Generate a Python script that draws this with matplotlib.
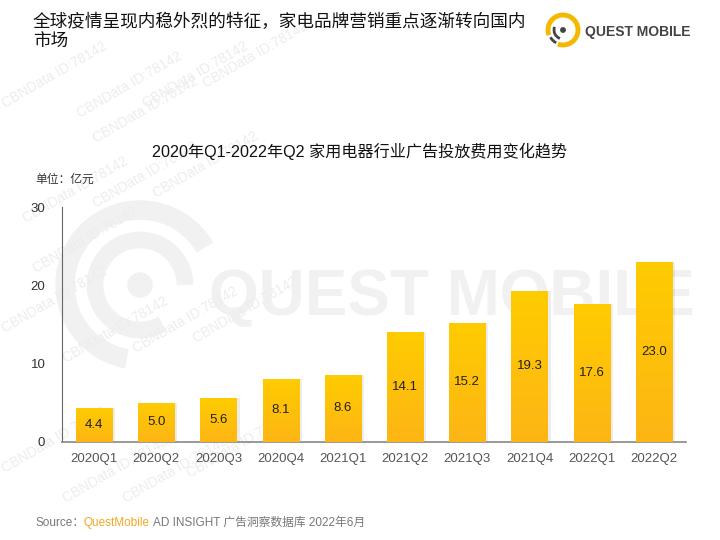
import matplotlib
matplotlib.use("Agg")
import matplotlib.pyplot as plt
import numpy as np
from matplotlib.colors import LinearSegmentedColormap
from matplotlib.patches import Circle, Arc

plt.rcParams['font.family'] = ['Liberation Sans', 'Noto Sans CJK SC', 'DejaVu Sans']

categories = ["2020Q1", "2020Q2", "2020Q3", "2020Q4", "2021Q1",
              "2021Q2", "2021Q3", "2021Q4", "2022Q1", "2022Q2"]
values = [4.4, 5.0, 5.6, 8.1, 8.6, 14.1, 15.2, 19.3, 17.6, 23.0]
yticks = [0, 10, 20, 30]

W, H = 720, 540
fig = plt.figure(figsize=(7.2, 5.4), dpi=100)
fig.patch.set_facecolor('white')

def fx(px):
    return px / W

def fy(py):
    return 1 - py / H

# background watermark layer
bg = fig.add_axes([0, 0, 1, 1], zorder=0)
bg.set_xlim(0, W)
bg.set_ylim(H, 0)
bg.axis('off')
wm = '#F1F1F1'
bg.text(452, 298, "QUEST MOBILE", fontsize=46, fontweight='bold', color=wm,
        ha='center', va='center', family=['Liberation Sans'])
bg.add_patch(Arc((140, 285), 150, 150, theta1=100, theta2=330, lw=14, color=wm))
bg.add_patch(Arc((140, 285), 90, 90, theta1=60, theta2=360, lw=12, color=wm))
bg.add_patch(Circle((140, 285), 12, color=wm))
for (x, y) in [(0, 75), (75, 85), (140, 75), (200, 55), (20, 190), (90, 175), (150, 165),
               (0, 300), (60, 330), (130, 320), (190, 310), (0, 440), (60, 470), (120, 470),
               (185, 445), (90, 110), (30, 240)]:
    bg.text(x, y, "CBNData ID:78142", fontsize=10, color='#EDEDED', rotation=30,
            ha='left', va='center')

# main axes
ax = fig.add_axes([fx(62), fy(442), fx(686) - fx(62), fy(207) - fy(442)], zorder=1)
ax.patch.set_alpha(0)
x = np.arange(len(categories))
bw = 0.58

# shadow
ax.bar(x + 0.05, values, width=bw, color='#000000', alpha=0.07, zorder=1)
bars = ax.bar(x, values, width=bw, color='#FFC20E', zorder=2)
cmap = LinearSegmentedColormap.from_list('g', ['#FDB515', '#FFCC00'])
grad = np.linspace(0, 1, 256).reshape(-1, 1)
for b in bars:
    x0 = b.get_x()
    h = b.get_height()
    im = ax.imshow(grad, extent=[x0, x0 + b.get_width(), 0, h], origin='lower',
                   cmap=cmap, aspect='auto', zorder=3)
    im.set_clip_path(b)

for xi, v in zip(x, values):
    ax.text(xi, v / 2, f"{v:.1f}", ha='center', va='center', fontsize=9.5,
            color='#222222', zorder=5)

ax.set_xlim(-0.515, len(categories) - 1 + 0.515)
ax.set_ylim(0, 30)
ax.set_yticks(yticks)
ax.set_yticklabels([str(t) for t in yticks], fontsize=9.5, color='#333333')
ax.set_xticks(x)
ax.set_xticklabels(categories, fontsize=9.5, color='#555555')
ax.tick_params(length=0, pad=8)
ax.tick_params(axis='y', pad=12)
for s in ['top', 'right']:
    ax.spines[s].set_visible(False)
ax.spines['left'].set_color('#666666')
ax.spines['bottom'].set_color('#888888')
ax.spines['bottom'].set_linewidth(1.2)

# texts
fig.text(fx(33), fy(22), "全球疫情呈现内稳外烈的特征，家电品牌营销重点逐渐转向国内",
         fontsize=12.7, color='#111111', va='center', ha='left')
fig.text(fx(33), fy(41), "市场", fontsize=12.7, color='#111111', va='center', ha='left')
fig.text(fx(360), fy(151), "2020年Q1-2022年Q2 家用电器行业广告投放费用变化趋势",
         fontsize=11.6, color='#111111', ha='center', va='center')
fig.text(fx(35), fy(180), "单位：亿元", fontsize=8.5, color='#333333', ha='left', va='center')

# source
t1 = fig.text(fx(35), fy(523), "Source：", fontsize=8.5, color='#777777', ha='left', va='center')
fig.canvas.draw()
r = fig.canvas.get_renderer()
bb = t1.get_window_extent(r)
t2 = fig.text(bb.x1 / W, fy(523), "QuestMobile", fontsize=8.5, color='#F5A623', ha='left', va='center')
bb2 = t2.get_window_extent(r)
fig.text(bb2.x1 / W + 0.004, fy(523), "AD INSIGHT 广告洞察数据库 2022年6月", fontsize=8.5,
         color='#777777', ha='left', va='center')

# logo
lg = fig.add_axes([0, 0, 1, 1], zorder=3)
lg.set_xlim(0, W)
lg.set_ylim(H, 0)
lg.axis('off')
lg.add_patch(Arc((563, 30), 30, 30, theta1=-200, theta2=110, lw=3.5, color='#F5B800'))
lg.add_patch(Arc((563, 30), 18, 18, theta1=110, theta2=200, lw=2.0, color='#444444'))
lg.add_patch(Arc((563, 30), 29, 29, theta1=118, theta2=150, lw=2.0, color='#444444'))
lg.add_patch(Circle((563, 30), 2.2, color='#444444'))
lg.text(585, 32, "QUEST MOBILE", fontsize=10, fontweight='bold', color='#444444',
        ha='left', va='center')

fig.savefig("out.png", dpi=100)
